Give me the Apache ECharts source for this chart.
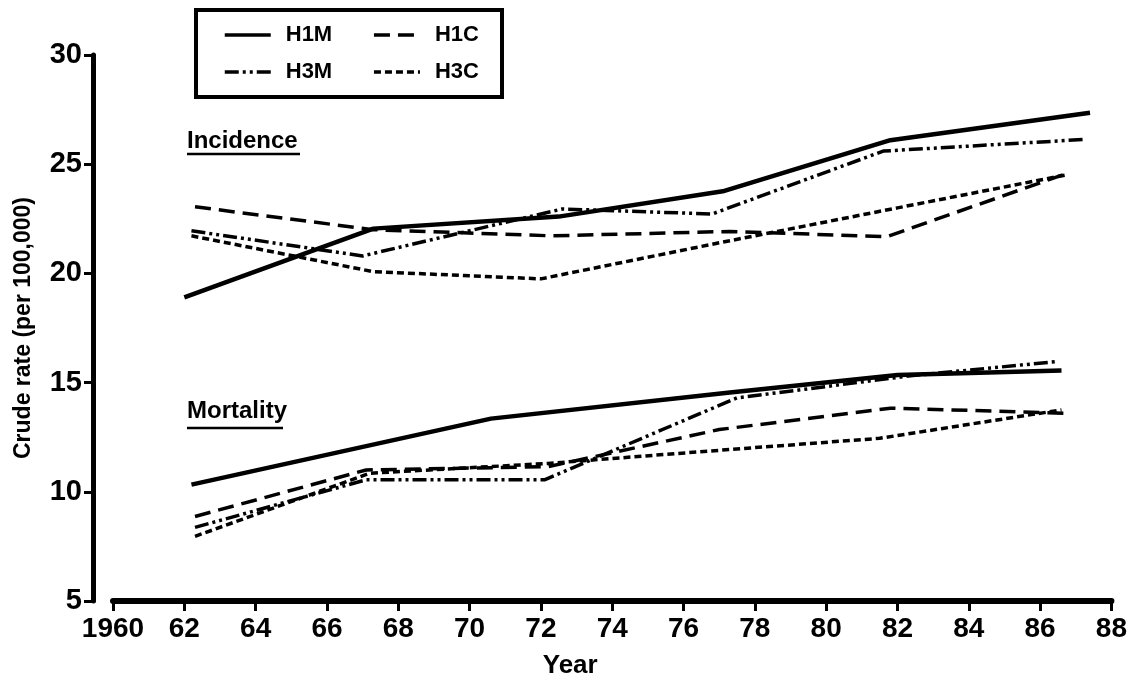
<!DOCTYPE html>
<html><head><meta charset="utf-8">
<script src="https://cdn.jsdelivr.net/npm/echarts@6/dist/echarts.min.js"></script>
<style>html,body{margin:0;padding:0;background:#fff}#c{width:1130px;height:684px}</style>
</head><body><div id="c"></div>
<script>
// x in years after 1900, y = crude rate per 100,000
const incH1M_x = [62.0, 67.3, 72.5, 77.1, 81.8, 87.4];
const incH1M_y = [18.9, 22.05, 22.6, 23.76, 26.1, 27.36];
const incH1C_x = [62.3, 67.3, 72.3, 77.3, 81.7, 86.7];
const incH1C_y = [23.05, 22.0, 21.72, 21.92, 21.68, 24.55];
const incH3M_x = [62.2, 67.0, 72.6, 76.8, 81.6, 87.2];
const incH3M_y = [21.95, 20.8, 22.95, 22.72, 25.6, 26.13];
const incH3C_x = [62.2, 67.3, 72.0, 77.0, 82.0, 86.7];
const incH3C_y = [21.72, 20.08, 19.75, 21.4, 23.0, 24.5];

const morH1M_x = [62.2, 70.6, 77.3, 82.0, 86.6];
const morH1M_y = [10.33, 13.35, 14.55, 15.35, 15.55];
const morH1C_x = [62.3, 67.1, 72.2, 77.0, 81.8, 86.7];
const morH1C_y = [8.87, 11.0, 11.15, 12.85, 13.83, 13.6];
const morH3M_x = [62.3, 67.1, 72.1, 77.5, 82.3, 86.5];
const morH3M_y = [8.37, 10.55, 10.55, 14.3, 15.3, 15.97];
const morH3C_x = [62.3, 67.2, 72.2, 77.0, 81.5, 86.6];
const morH3C_y = [7.96, 10.85, 11.3, 11.9, 12.45, 13.75];

const seriesNames = ['H1M', 'H1C', 'H3M', 'H3C'];
const xMin = 60, xMax = 88, xStep = 2;
const yMin = 5, yMax = 30, yStep = 5;

const zip = (xs, ys) => xs.map((x, i) => [x, ys[i]]);
const styles = {
  H1M: { type: 'solid', width: 4.5 },
  H1C: { type: [16, 8], width: 3.5 },
  H3M: { type: [14, 4, 3, 4, 3, 4], width: 3.5 },
  H3C: { type: [7, 4], width: 3.5 }
};
const mk = (name, xs, ys) => ({
  name, type: 'line', data: zip(xs, ys), symbol: 'none',
  lineStyle: Object.assign({ color: '#000', cap: 'butt' }, styles[name]),
  itemStyle: { color: '#000' }
});

const FONT = '"Liberation Sans", Arial, sans-serif';
const chart = echarts.init(document.getElementById('c'), null, { renderer: 'canvas' });
const legendBase = {
  orient: 'horizontal', itemWidth: 46, itemHeight: 14, itemGap: 40,
  itemStyle: { opacity: 0, color: 'transparent', borderWidth: 0 },
  lineStyle: { width: 3.5 },
  textStyle: { fontFamily: FONT, fontSize: 22, fontWeight: 'bold', color: '#000', padding: [0, 0, 0, 10] }
};
chart.setOption({
  backgroundColor: '#fff',
  animation: false,
  grid: { left: 113, right: 10, top: 55, bottom: 79 },
  legend: [
    Object.assign({}, legendBase, { data: [seriesNames[0], seriesNames[1]], left: 218, top: 19 }),
    Object.assign({}, legendBase, { data: [seriesNames[2], seriesNames[3]], left: 218, top: 56 })
  ],
  xAxis: {
    type: 'value', min: xMin, max: xMax, interval: xStep,
    name: 'Year', nameLocation: 'middle', nameGap: 52,
    nameTextStyle: { fontFamily: FONT, fontSize: 26, fontWeight: 'bold', color: '#000', padding: [0, 84, 0, 0] },
    axisLine: { show: true, lineStyle: { color: '#000', width: 6 } },
    axisTick: { show: true, length: 10, lineStyle: { color: '#000', width: 3 } },
    axisLabel: { margin: 14, fontFamily: FONT, fontSize: 28, fontWeight: 'bold', color: '#000',
      formatter: v => v === 60 ? '1960' : String(v) },
    splitLine: { show: false }
  },
  yAxis: {
    type: 'value', min: yMin, max: yMax, interval: yStep, offset: 20,
    name: 'Crude rate (per 100,000)', nameLocation: 'middle', nameGap: 58,
    nameTextStyle: { fontFamily: FONT, fontSize: 23, fontWeight: 'bold', color: '#000' },
    axisLine: { show: true, lineStyle: { color: '#000', width: 5 } },
    axisTick: { show: true, length: 9, lineStyle: { color: '#000', width: 3 } },
    axisLabel: { margin: 11, fontFamily: FONT, fontSize: 29, fontWeight: 'bold', color: '#000' },
    splitLine: { show: false }
  },
  graphic: [
    { type: 'rect', shape: { x: 196, y: 10, width: 306, height: 87 },
      style: { fill: 'none', stroke: '#000', lineWidth: 4 } },
    { type: 'text', left: 187, top: 129,
      style: { text: 'Incidence', font: 'bold 24px ' + FONT, fill: '#000' } },
    { type: 'line', shape: { x1: 187, y1: 154, x2: 300, y2: 154 }, style: { stroke: '#000', lineWidth: 2.5 } },
    { type: 'text', left: 187, top: 399,
      style: { text: 'Mortality', font: 'bold 24px ' + FONT, fill: '#000' } },
    { type: 'line', shape: { x1: 187, y1: 428, x2: 283, y2: 428 }, style: { stroke: '#000', lineWidth: 2.5 } }
  ],
  series: [
    mk('H1M', incH1M_x, incH1M_y),
    mk('H1C', incH1C_x, incH1C_y),
    mk('H3M', incH3M_x, incH3M_y),
    mk('H3C', incH3C_x, incH3C_y),
    mk('H1M', morH1M_x, morH1M_y),
    mk('H1C', morH1C_x, morH1C_y),
    mk('H3M', morH3M_x, morH3M_y),
    mk('H3C', morH3C_x, morH3C_y)
  ]
});
</script></body></html>
